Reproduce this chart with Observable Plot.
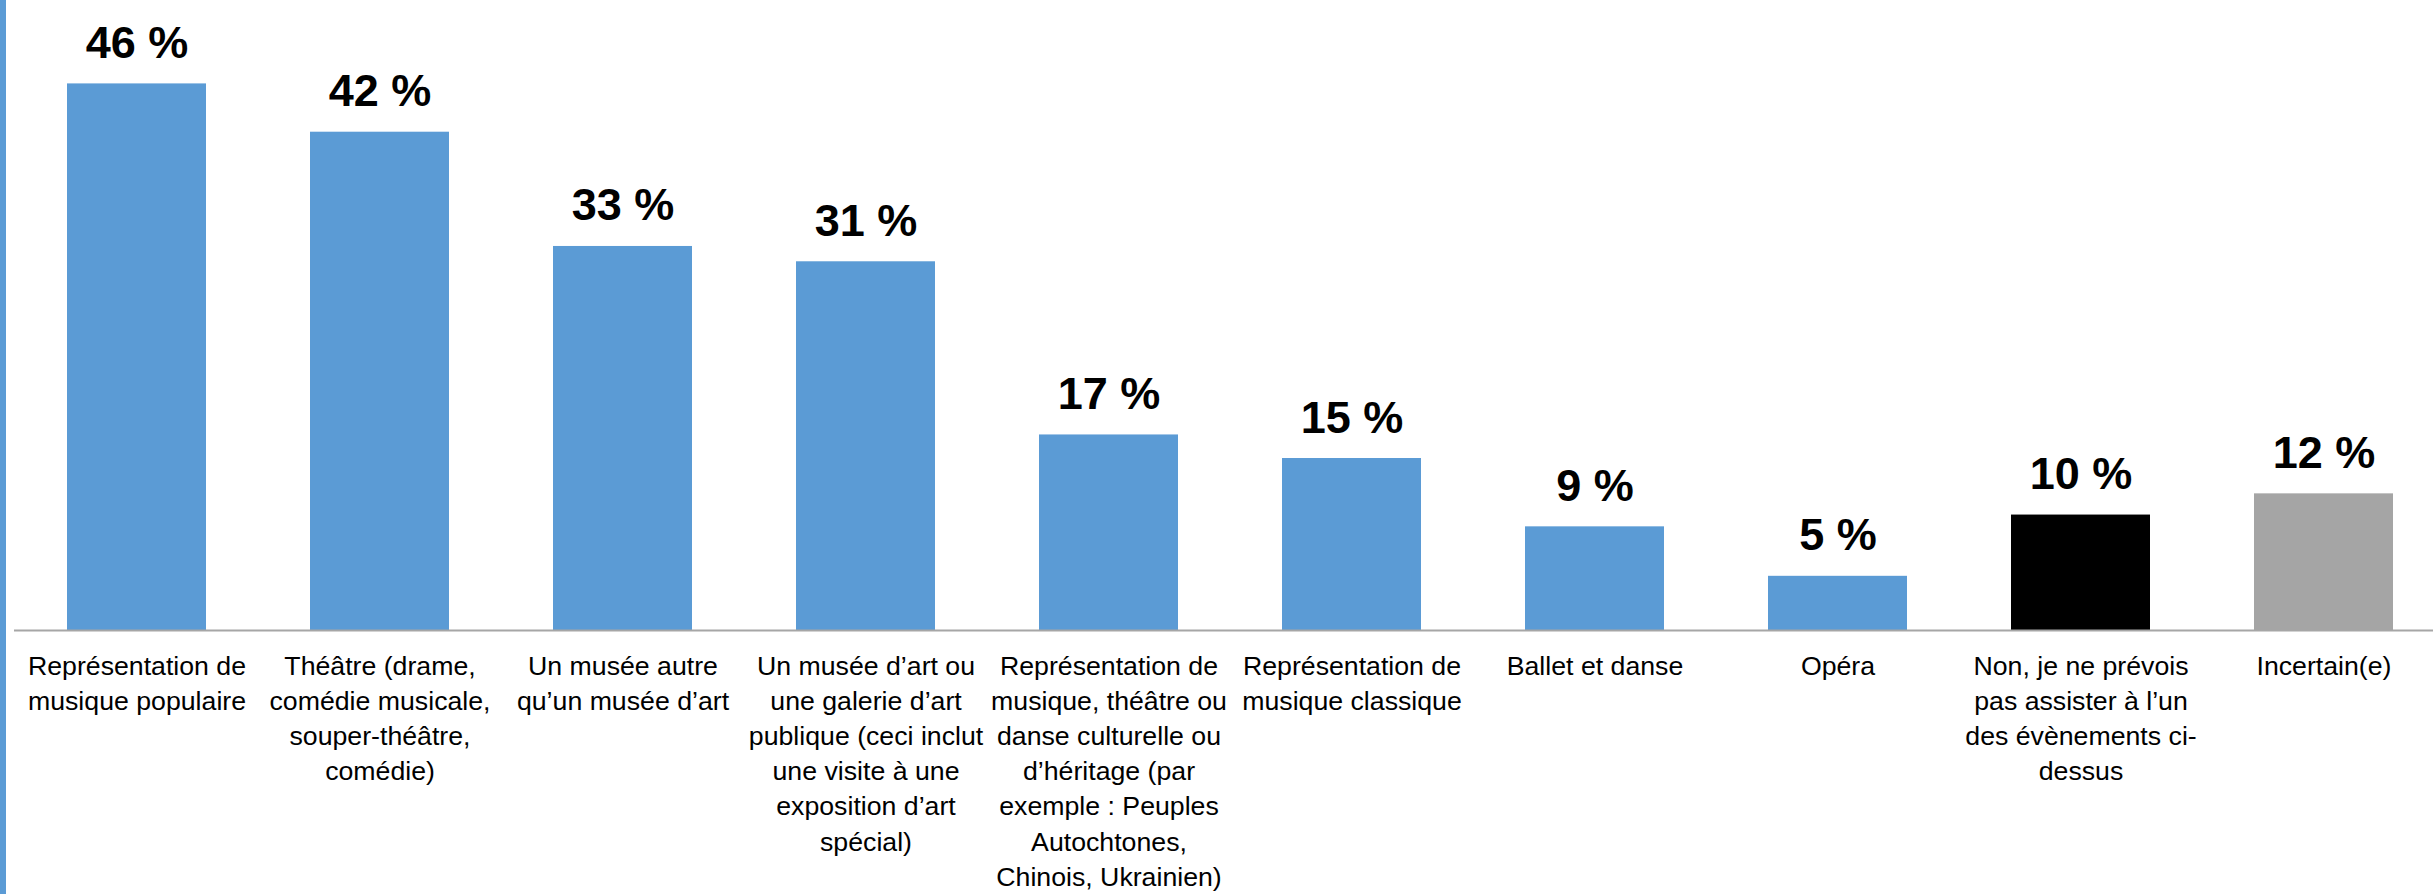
<!DOCTYPE html>
<html lang="fr">
<head>
<meta charset="utf-8">
<script src="https://cdn.jsdelivr.net/npm/d3@7"></script>
<script src="https://cdn.jsdelivr.net/npm/@observablehq/plot@0.6"></script>
<style>
  html, body { margin: 0; padding: 0; background: #ffffff; overflow: hidden; }
  #wrap { position: relative; width: 2433px; height: 894px; }
  #edge { position: absolute; left: 0; top: 0; width: 6px; height: 894px; background: #5b9bd5; }
  #chart svg { display: block; }
</style>
</head>
<body>
<div id="wrap">
  <div id="chart"></div>
  <div id="edge"></div>
</div>
<script>
// Categories (with line breaks as shown in the reference)
const categories = [
  "Représentation de\nmusique populaire",
  "Théâtre (drame,\ncomédie musicale,\nsouper-théâtre,\ncomédie)",
  "Un musée autre\nqu’un musée d’art",
  "Un musée d’art ou\nune galerie d’art\npublique (ceci inclut\nune visite à une\nexposition d’art\nspécial)",
  "Représentation de\nmusique, théâtre ou\ndanse culturelle ou\nd’héritage (par\nexemple : Peuples\nAutochtones,\nChinois, Ukrainien)",
  "Représentation de\nmusique classique",
  "Ballet et danse",
  "Opéra",
  "Non, je ne prévois\npas assister à l’un\ndes évènements ci-\ndessus",
  "Incertain(e)"
];
// Percent values (labels show rounded values)
const values = [46.4, 42.3, 32.6, 31.3, 16.6, 14.6, 8.8, 4.6, 9.8, 11.6];
// Response group of each category
const kinds = ["Événement", "Événement", "Événement", "Événement", "Événement",
               "Événement", "Événement", "Événement", "Non", "Incertain"];

const data = categories.map((c, i) => ({category: c, value: values[i], kind: kinds[i]}));

const chart = Plot.plot({
  width: 2433,
  height: 894,
  marginTop: 0,
  marginBottom: 264,
  marginLeft: 14,
  marginRight: 0,
  style: {fontFamily: "'Liberation Sans', Arial, sans-serif", background: "#ffffff", color: "#000000"},
  x: {domain: categories, range: [14, 2446], paddingInner: 0.4285, paddingOuter: 0.2143, align: 0.5, axis: null},
  y: {domain: [0, 53.48], axis: null},
  color: {domain: ["Événement", "Non", "Incertain"], range: ["#5b9bd5", "#000000", "#a5a5a5"]},
  marks: [
    Plot.barY(data, {x: "category", y: "value", fill: "kind"}),
    Plot.ruleY([0], {stroke: "#a6a6a6", strokeWidth: 2}),
    Plot.text(data, {
      x: "category", y: "value",
      text: d => `${Math.round(d.value)} %`,
      lineAnchor: "bottom", dy: -26,
      fontSize: 45, fontWeight: "bold", fill: "#000000"
    }),
    Plot.text(data, {
      x: "category", frameAnchor: "bottom",
      text: "category",
      lineAnchor: "top", lineHeight: 1.32, dy: 19,
      fontSize: 26.7, fill: "#000000"
    })
  ]
});
document.getElementById("chart").appendChild(chart);
</script>
</body>
</html>
